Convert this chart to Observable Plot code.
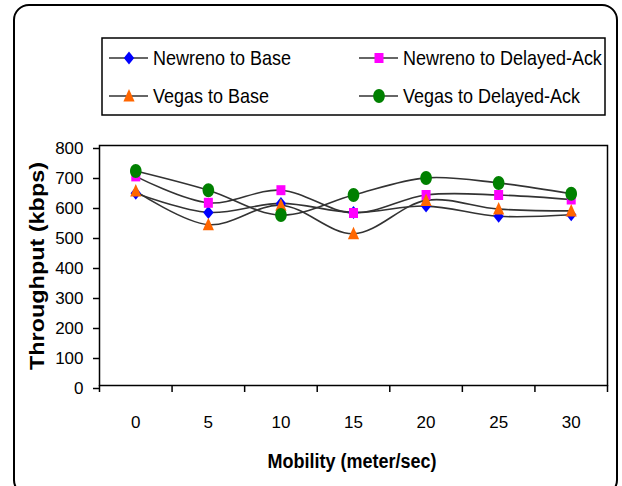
<!DOCTYPE html>
<html>
<head>
<meta charset="utf-8">
<script src="https://cdn.jsdelivr.net/npm/d3@7"></script>
<script src="https://cdn.jsdelivr.net/npm/@observablehq/plot@0.6"></script>
<style>
  html, body { margin: 0; padding: 0; background: #fff; overflow: hidden; }
  #wrap { position: relative; width: 622px; height: 486px; overflow: hidden; font-family: "Liberation Sans", Arial, sans-serif; }
  #border { position: absolute; left: 13px; top: 4px; width: 605px; height: 492px; border: 2px solid #000; border-radius: 16px; box-sizing: border-box; }
  #chart { position: absolute; left: 0; top: 0; }
  #chart svg { display: block; }
  #legend { position: absolute; left: 0; top: 0; }
</style>
</head>
<body>
<div id="wrap">
  <div id="border"></div>
  <div id="chart"></div>
  <svg id="legend" width="622" height="130"></svg>
</div>
<script>
// ---- data ----
const mobility = [0, 5, 10, 15, 20, 25, 30];
const seriesNames = ["Newreno to Base", "Newreno to Delayed-Ack", "Vegas to Base", "Vegas to Delayed-Ack"];
const newrenoBase    = [641, 577, 607, 577, 598, 564, 569];
const newrenoDelayed = [697, 609, 651, 575, 635, 635, 620];
const vegasBase      = [648, 536, 601, 506, 617, 588, 582];
const vegasDelayed   = [715, 651, 568, 635, 692, 675, 639];
const yTicks = [0, 100, 200, 300, 400, 500, 600, 700, 800];
const seriesColors  = ["#0000ff", "#ff00ff", "#ff6600", "#008000"];

// custom marker shapes (Excel-like, slightly tall)
const symDiamond = {draw(c) { c.moveTo(0, -6.5); c.lineTo(5.2, 0); c.lineTo(0, 6.5); c.lineTo(-5.2, 0); c.closePath(); }};
const symSquare = {draw(c) { c.moveTo(-4.5, -5); c.lineTo(4.5, -5); c.lineTo(4.5, 5); c.lineTo(-4.5, 5); c.closePath(); }};
const symTriangle = {draw(c) { c.moveTo(0, -7); c.lineTo(5.6, 5.5); c.lineTo(-5.6, 5.5); c.closePath(); }};
const symEllipse = {draw(c) {
  const rx = 5.8, ry = 7, k = 0.5523;
  c.moveTo(rx, 0);
  c.bezierCurveTo(rx, ry * k, rx * k, ry, 0, ry);
  c.bezierCurveTo(-rx * k, ry, -rx, ry * k, -rx, 0);
  c.bezierCurveTo(-rx, -ry * k, -rx * k, -ry, 0, -ry);
  c.bezierCurveTo(rx * k, -ry, rx, -ry * k, rx, 0);
  c.closePath();
}};
const seriesSymbols = [symDiamond, symSquare, symTriangle, symEllipse];

const allSeries = [newrenoBase, newrenoDelayed, vegasBase, vegasDelayed];
const data = [];
allSeries.forEach((vals, i) => vals.forEach((v, j) => data.push({series: seriesNames[i], x: mobility[j], y: v})));

const boundaries = mobility.map(m => m - 2.5).concat([mobility[mobility.length - 1] + 2.5]);

const chart = Plot.plot({
  width: 622,
  height: 486,
  marginLeft: 99,
  marginRight: 15,
  marginTop: 145,
  marginBottom: 101,
  style: {fontFamily: '"Liberation Sans", Arial, sans-serif', fontSize: "17px", color: "#000", background: "transparent"},
  x: {domain: [boundaries[0], boundaries[boundaries.length - 1]]},
  y: {domain: [0, 800]},
  color: {domain: seriesNames, range: seriesColors},
  symbol: {domain: seriesNames, range: seriesSymbols},
  marks: [
    Plot.frame({stroke: "#000", strokeWidth: 1.5}),
    Plot.axisY({ticks: yTicks, tickSize: 6, tickPadding: 10, label: null, dy: 3, strokeWidth: 1.5}),
    Plot.axisX({ticks: boundaries, tickSize: 7, tickFormat: () => "", label: null, strokeWidth: 1.5}),
    Plot.axisX({ticks: mobility, tickSize: 0, tickPadding: 30, label: null}),
    Plot.line(data, {x: "x", y: "y", z: "series", curve: "catmull-rom", stroke: "#333", strokeWidth: 1.6}),
    Plot.dot(data, {x: "x", y: "y", symbol: "series", fill: "series", r: 6})
  ]
});
document.getElementById("chart").appendChild(chart);

const svg = d3.select(chart);
svg.append("text")
  .attr("transform", "translate(44,266) rotate(-90)")
  .attr("text-anchor", "middle")
  .attr("font-weight", "bold")
  .attr("font-size", 21)
  .attr("textLength", 208)
  .attr("lengthAdjust", "spacingAndGlyphs")
  .attr("fill", "#000")
  .text("Throughput (kbps)");
svg.append("text")
  .attr("transform", "translate(352,468) scale(1,1.17)")
  .attr("text-anchor", "middle")
  .attr("font-weight", "bold")
  .attr("font-size", 18)
  .attr("fill", "#000")
  .text("Mobility (meter/sec)");

// ---- legend ----
const lg = d3.select("#legend");
lg.append("rect").attr("x", 102).attr("y", 38).attr("width", 503).attr("height", 77)
  .attr("fill", "#fff").attr("stroke", "#000").attr("stroke-width", 1.5);
const pos = [[109, 58], [359, 58], [109, 96], [359, 96]];
seriesNames.forEach((name, i) => {
  const [x0, cy] = pos[i];
  const g = lg.append("g");
  g.append("line").attr("x1", x0).attr("x2", x0 + 39).attr("y1", cy).attr("y2", cy)
    .attr("stroke", "#333").attr("stroke-width", 1.5);
  g.append("path").attr("d", d3.symbol(seriesSymbols[i])())
    .attr("transform", `translate(${x0 + 20},${cy})`).attr("fill", seriesColors[i]);
  g.append("text").attr("transform", `translate(${x0 + 44},${cy + 7}) scale(1,1.15)`)
    .attr("font-family", '"Liberation Sans", Arial, sans-serif').attr("font-size", 18).attr("fill", "#000")
    .text(name);
});
</script>
</body>
</html>
